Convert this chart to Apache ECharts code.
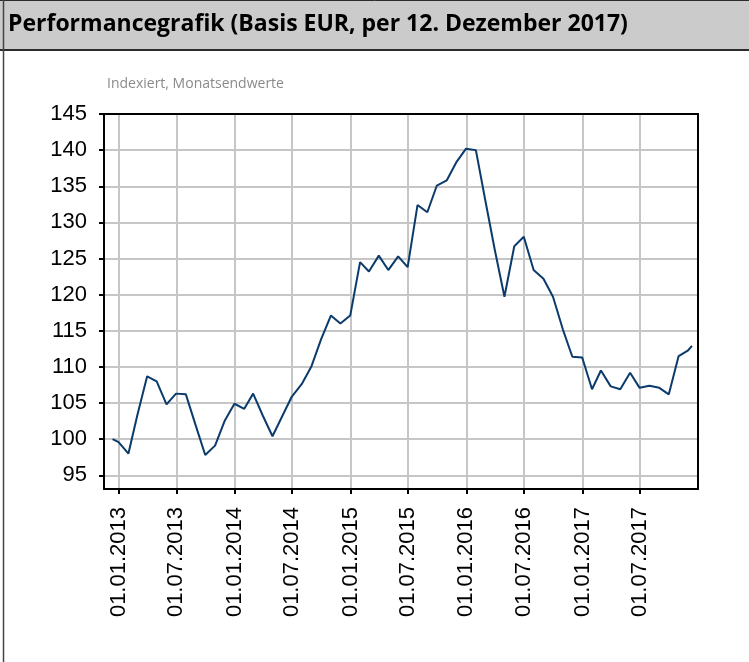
<!DOCTYPE html>
<html>
<head>
<meta charset="utf-8">
<script src="https://cdn.jsdelivr.net/npm/echarts@6/dist/echarts.min.js"></script>
<style>
  html, body { margin: 0; padding: 0; background: #ffffff; }
  #chart { width: 749px; height: 662px; }
</style>
</head>
<body>
<div id="chart"></div>
<script>
// Indexed performance (EUR), month-end values plus start/end on the 12th
const dates = [
  '2012-12-12', '2012-12-31',
  '2013-01-31', '2013-02-28', '2013-03-31', '2013-04-30', '2013-05-31', '2013-06-30',
  '2013-07-31', '2013-08-31', '2013-09-30', '2013-10-31', '2013-11-30', '2013-12-31',
  '2014-01-31', '2014-02-28', '2014-03-31', '2014-04-30', '2014-05-31', '2014-06-30',
  '2014-07-31', '2014-08-31', '2014-09-30', '2014-10-31', '2014-11-30', '2014-12-31',
  '2015-01-31', '2015-02-28', '2015-03-31', '2015-04-30', '2015-05-31', '2015-06-30',
  '2015-07-31', '2015-08-31', '2015-09-30', '2015-10-31', '2015-11-30', '2015-12-31',
  '2016-01-31', '2016-02-29', '2016-03-31', '2016-04-30', '2016-05-31', '2016-06-30',
  '2016-07-31', '2016-08-31', '2016-09-30', '2016-10-31', '2016-11-30', '2016-12-31',
  '2017-01-31', '2017-02-28', '2017-03-31', '2017-04-30', '2017-05-31', '2017-06-30',
  '2017-07-31', '2017-08-31', '2017-09-30', '2017-10-31', '2017-11-30', '2017-12-12'
];
const indexValues = [
  100.0, 99.6,
  98.0, 103.3, 108.7, 108.0, 104.8, 106.3,
  106.2, 101.9, 97.8, 99.1, 102.5, 104.9,
  104.2, 106.3, 103.2, 100.4, 103.2, 105.9,
  107.6, 110.1, 113.8, 117.1, 116.0, 117.1,
  124.5, 123.2, 125.4, 123.4, 125.3, 123.8,
  132.4, 131.4, 135.1, 135.8, 138.3, 140.2,
  140.0, 133.2, 126.1, 119.7, 126.7, 128.0,
  123.4, 122.2, 119.7, 115.2, 111.4, 111.3,
  106.9, 109.5, 107.3, 106.9, 109.2, 107.1,
  107.4, 107.1, 106.2, 111.5, 112.3, 112.9
];
const xTickDates = [
  '2013-01-01', '2013-07-01', '2014-01-01', '2014-07-01', '2015-01-01',
  '2015-07-01', '2016-01-01', '2016-07-01', '2017-01-01', '2017-07-01'
];
const yTicks = [95, 100, 105, 110, 115, 120, 125, 130, 135, 140, 145];

const titleText = 'Performancegrafik (Basis EUR, per 12. Dezember 2017)';
const subtitleText = 'Indexiert, Monatsendwerte';

const toTime = s => {
  const p = s.split('-').map(Number);
  return Date.UTC(p[0], p[1] - 1, p[2]);
};
const pad = n => (n < 10 ? '0' : '') + n;
const fmtDate = t => {
  const d = new Date(t);
  return pad(d.getUTCDate()) + '.' + pad(d.getUTCMonth() + 1) + '.' + d.getUTCFullYear();
};

const seriesData = dates.map((d, i) => [toTime(d), indexValues[i]]);
const xTickTimes = xTickDates.map(toTime);
const xMin = toTime('2012-11-15');
const xMax = toTime('2017-12-31');
const yMin = 93.1;
const yMax = 145;

const frameLine = { show: true, onZero: false, lineStyle: { color: '#000000', width: 2 } };
const labelFont = '"Liberation Sans", Arial, sans-serif';

const chart = echarts.init(document.getElementById('chart'), null, { renderer: 'canvas' });

chart.setOption({
  backgroundColor: '#ffffff',
  animation: false,
  graphic: [
    {
      type: 'rect',
      left: 0, top: 0,
      shape: { width: 749, height: 50 },
      style: { fill: '#cbcbcb' },
      z: 1
    },
    {
      type: 'line',
      shape: { x1: 0, y1: 50, x2: 749, y2: 50 },
      style: { stroke: '#2b2b2b', lineWidth: 2 },
      z: 2
    },
    {
      type: 'line',
      shape: { x1: 0, y1: 0.5, x2: 749, y2: 0.5 },
      style: { stroke: '#2b2b2b', lineWidth: 1 },
      z: 2
    },
    {
      type: 'line',
      shape: { x1: 3.5, y1: 0, x2: 3.5, y2: 662 },
      style: { stroke: '#444444', lineWidth: 1.5 },
      z: 2
    },
    {
      type: 'text',
      left: 8, top: 13,
      style: {
        text: titleText,
        fill: '#000000',
        font: 'bold 23px "Open Sans", sans-serif'
      },
      z: 3
    }
  ],
  title: {
    text: subtitleText,
    left: 102,
    top: 72,
    textStyle: {
      fontFamily: '"Open Sans", sans-serif',
      fontSize: 14,
      fontWeight: 'normal',
      color: '#8a8a8a'
    }
  },
  grid: {
    left: 104,
    top: 114,
    right: 51,
    bottom: 173,
    show: false,
    containLabel: false
  },
  xAxis: [
    {
      type: 'value',
      min: xMin,
      max: xMax,
      axisLine: frameLine,
      axisTick: {
        show: true,
        length: 5,
        customValues: xTickTimes,
        lineStyle: { color: '#000000', width: 2 }
      },
      axisLabel: {
        customValues: xTickTimes,
        rotate: 90,
        margin: 18,
        color: '#000000',
        fontFamily: labelFont,
        fontSize: 22,
        formatter: v => fmtDate(v)
      },
      splitLine: { show: true, lineStyle: { color: '#c6c6c6', width: 2 } }
    },
    {
      // top edge of the plot frame
      type: 'value',
      position: 'top',
      min: xMin,
      max: xMax,
      axisLine: frameLine,
      axisTick: { show: false },
      axisLabel: { show: false },
      splitLine: { show: false }
    }
  ],
  yAxis: [
    {
      type: 'value',
      min: yMin,
      max: yMax,
      axisLine: frameLine,
      axisTick: {
        show: true,
        length: 5,
        customValues: yTicks,
        lineStyle: { color: '#000000', width: 2 }
      },
      axisLabel: {
        customValues: yTicks,
        margin: 17,
        color: '#000000',
        fontFamily: labelFont,
        fontSize: 22
      },
      splitLine: { show: true, lineStyle: { color: '#c6c6c6', width: 2 } }
    },
    {
      // right edge of the plot frame
      type: 'value',
      position: 'right',
      min: yMin,
      max: yMax,
      axisLine: frameLine,
      axisTick: { show: false },
      axisLabel: { show: false },
      splitLine: { show: false }
    }
  ],
  series: [
    {
      type: 'line',
      xAxisIndex: 0,
      yAxisIndex: 0,
      data: seriesData,
      showSymbol: false,
      symbol: 'none',
      lineStyle: { color: '#0b3b6c', width: 2 },
      z: 5
    }
  ]
});
</script>
</body>
</html>
